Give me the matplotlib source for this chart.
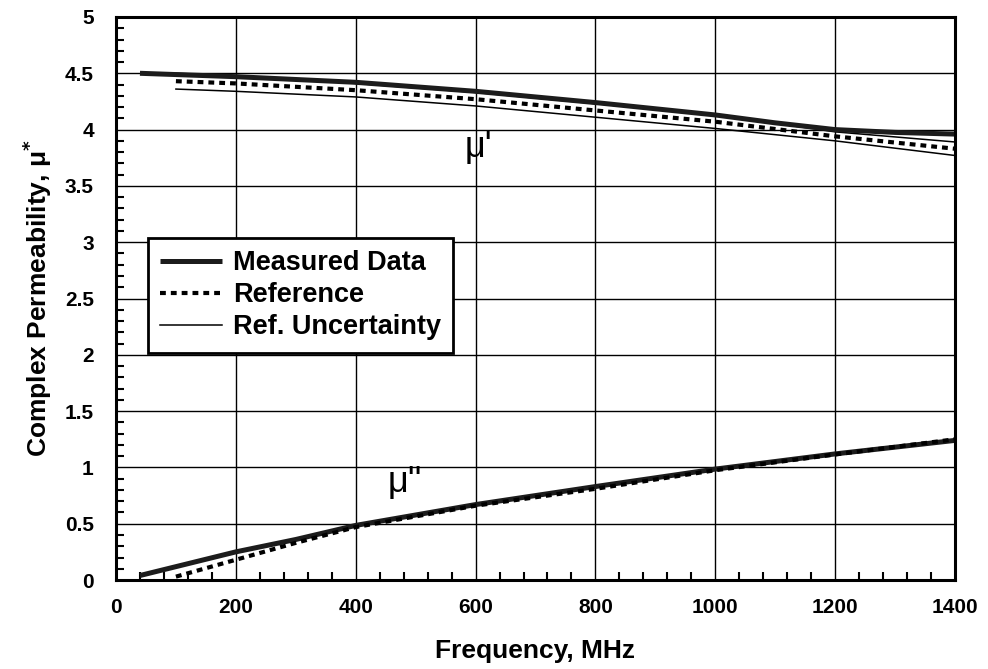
import numpy as np
import matplotlib.pyplot as plt
from matplotlib.ticker import MultipleLocator, FuncFormatter

plt.rcParams['font.family'] = ['Liberation Sans', 'DejaVu Sans']
plt.rcParams['font.weight'] = 'bold'
plt.rcParams['mathtext.default'] = 'bf'

# mu' (real part)
f_meas_re = [40, 200, 400, 600, 800, 1000, 1100, 1200, 1300, 1400]
mu_re_meas = [4.50, 4.47, 4.42, 4.34, 4.24, 4.13, 4.06, 4.00, 3.975, 3.96]
f_ref_re = [100, 200, 400, 600, 800, 1000, 1200, 1400]
mu_re_ref = [4.43, 4.41, 4.35, 4.27, 4.17, 4.07, 3.94, 3.83]
mu_re_lo = [4.36, 4.34, 4.29, 4.21, 4.11, 4.01, 3.90, 3.77]
mu_re_hi = [4.50, 4.48, 4.41, 4.33, 4.23, 4.13, 3.98, 3.89]

# mu'' (imaginary part)
f_meas_im = [40, 200, 300, 400, 600, 800, 1000, 1200, 1400]
mu_im_meas = [0.04, 0.25, 0.36, 0.485, 0.67, 0.83, 0.985, 1.12, 1.24]
f_ref_im = [100, 200, 300, 400, 600, 800, 1000, 1200, 1400]
mu_im_ref = [0.03, 0.18, 0.33, 0.47, 0.66, 0.81, 0.975, 1.115, 1.25]

fig = plt.figure(figsize=(9.88, 6.69), dpi=100)
ax = fig.add_axes([0.1174, 0.133, 0.8492, 0.8416])

thin = dict(color='black', lw=1.1)
thick = dict(color='#1c1c1c', lw=3.6, solid_capstyle='butt')
dots = dict(color='black', lw=3.0, linestyle=(0, (1.4, 1.2)))

# uncertainty band
ax.plot(f_ref_re, mu_re_lo, label='Ref. Uncertainty', **thin)
ax.plot(f_ref_re, mu_re_hi, **thin)

# measured
ax.plot(f_meas_re, mu_re_meas, label='Measured Data', **thick)
ax.plot(f_meas_im, mu_im_meas, **thick)

# reference
ax.plot(f_ref_re, mu_re_ref, label='Reference', **dots)
ax.plot(f_ref_im, mu_im_ref, **dots)

ax.text(582, 3.76, "μ'", fontsize=26, fontweight='normal')
ax.text(453, 0.78, "μ''", fontsize=26, fontweight='normal')

ax.set_xlim(0, 1400)
ax.set_ylim(0, 5)
ax.xaxis.set_major_locator(MultipleLocator(200))
ax.xaxis.set_minor_locator(MultipleLocator(40))
ax.yaxis.set_major_locator(MultipleLocator(0.5))
ax.yaxis.set_minor_locator(MultipleLocator(0.1))
ax.yaxis.set_major_formatter(FuncFormatter(lambda v, p: '%g' % v))
ax.grid(True, which='major', color='black', lw=1.0)
ax.tick_params(which='both', direction='in', top=False, right=False,
               labelsize=15, width=1.5)
ax.tick_params(axis='x', which='major', length=0, pad=13)
ax.tick_params(axis='y', which='major', length=0, pad=16)
ax.tick_params(which='minor', length=6)
for s in ax.spines.values():
    s.set_linewidth(2.2)

ax.set_xlabel('Frequency, MHz', fontsize=19, fontweight='bold', labelpad=16)
ax.set_ylabel('Complex Permeability, μ$^{*}$', fontsize=19, fontweight='bold', labelpad=8)

h, l = ax.get_legend_handles_labels()
order = [1, 2, 0]
leg = ax.legend([h[i] for i in order], [l[i] for i in order],
                loc='upper left', bbox_to_anchor=(0.038, 0.607),
                borderaxespad=0, fancybox=False, framealpha=1,
                edgecolor='black', handlelength=2.3,
                handletextpad=0.4, labelspacing=0.22, borderpad=0.45,
                prop={'weight': 'bold', 'size': 19.5})
leg.get_frame().set_linewidth(2.0)

fig.savefig('out.png', dpi=100)
